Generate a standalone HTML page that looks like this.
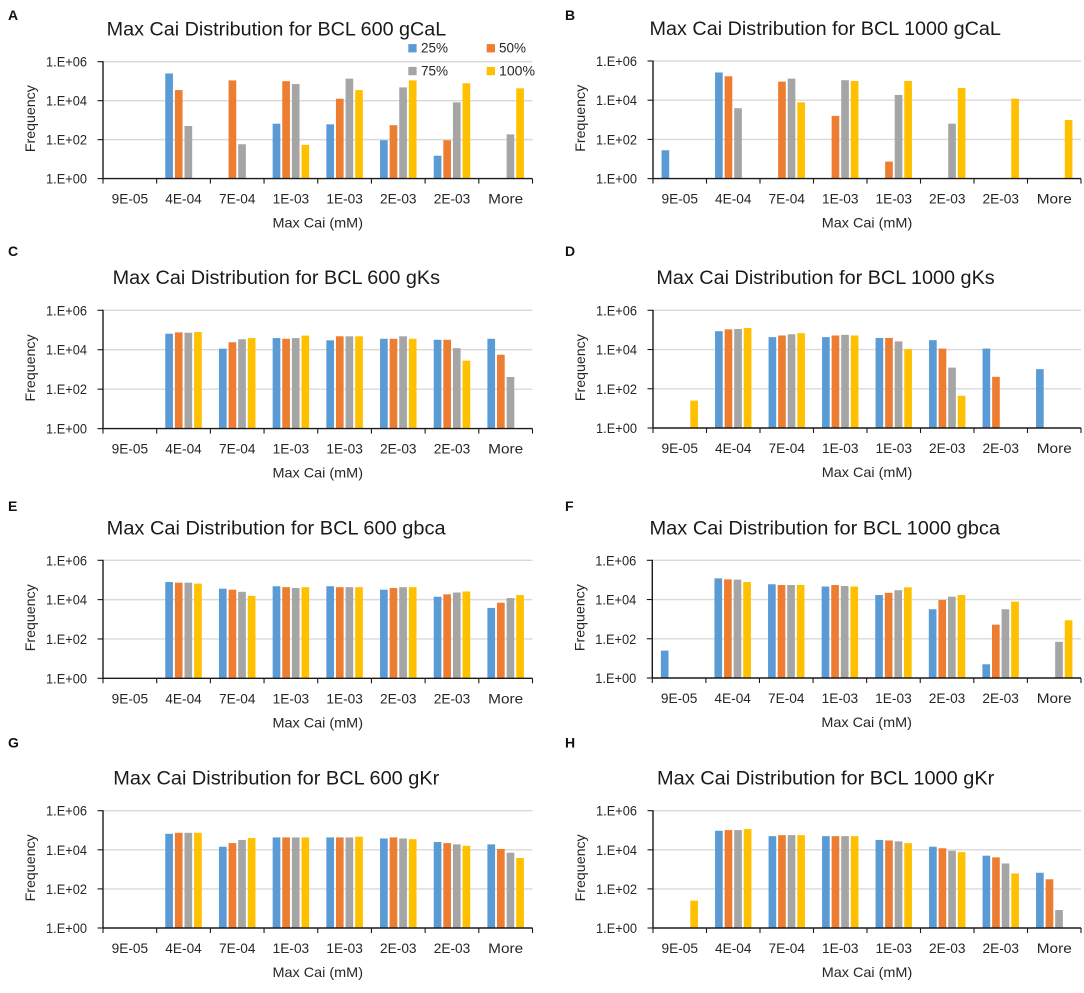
<!DOCTYPE html>
<html lang="en">
<head>
<meta charset="utf-8">
<title>Max Cai Distribution Charts</title>
<style>
html,body{margin:0;padding:0;background:#fff;width:1084px;height:993px;overflow:hidden}
svg{display:block;filter:blur(0.3px)}
text{font-family:"Liberation Sans",sans-serif;fill:#262626}
</style>
</head>
<body>
<svg id="fig" width="1084" height="993" viewBox="0 0 1084 993" xmlns="http://www.w3.org/2000/svg"></svg>
<script>
const categories = ['9E-05','4E-04','7E-04','1E-03','1E-03','2E-03','2E-03','More'];
const yTickLabels = ['1.E+00','1.E+02','1.E+04','1.E+06'];
const yTickValues = [1,100,10000,1000000];
const seriesNames = ['25%','50%','75%','100%'];

const a25  = [1,250000,1,660,610,93,15,1];
const a50  = [1,35000,110000,100000,12600,550,93,1];
const a75  = [1,500,58,71000,135000,48000,8200,187];
const a100 = [1,1,1,54,35000,110000,78000,43000];

const b25  = [28,260000,1,1,1,1,1,1];
const b50  = [1,166000,89000,1580,7.4,1,1,1];
const b75  = [1,3900,126000,105000,18600,640,1,1];
const b100 = [1,1,7800,96000,96000,42000,12000,980];

const c25  = [1,65000,11300,39000,30000,36000,32000,36000];
const c50  = [1,76000,24000,36000,48000,36000,32000,5600];
const c75  = [1,73000,34000,39000,48000,48000,12000,415];
const c100 = [1,79000,39000,52000,48000,36000,2800,1];

const d25  = [1,86000,43000,43000,39000,30000,11200,1000];
const d50  = [1,107000,52000,52000,39000,11200,407,1];
const d75  = [1,112000,60000,56000,26000,1200,1,1];
const d100 = [25,126000,68000,52000,10500,44,1,1];

const e25  = [1,79000,36000,48000,48000,32000,14000,3800];
const e50  = [1,73000,32000,43000,43000,39000,18600,7000];
const e75  = [1,73000,25000,39000,43000,43000,23000,12000];
const e100 = [1,65000,15500,43000,43000,43000,26000,17000];

const f25  = [25,120000,60000,46000,17000,3200,5,1];
const f50  = [1,107000,55000,55000,22000,9500,525,1];
const f75  = [1,103000,55000,49000,30000,14000,3200,70];
const f100 = [1,78000,55000,46000,42000,17000,7800,880];

const g25  = [1,66000,14400,43000,43000,38000,25000,19000];
const g50  = [1,74000,22000,43000,43000,43000,22000,11000];
const g75  = [1,74000,32000,43000,43000,38000,19000,7100];
const g100 = [1,74000,40000,43000,47000,35000,16000,3800];

const h25  = [1,94000,50000,50000,32000,14400,5000,670];
const h50  = [1,102000,56000,50000,30000,12000,4100,310];
const h75  = [1,102000,56000,50000,27000,8900,2000,8.3];
const h100 = [25,115000,56000,50000,22000,7600,620,1];

const colors = ['#5b9bd5','#ed7d31','#a5a5a5','#ffc000'];

const layout = [
 {id:'a',letter:'A',lx:8,ly:20,x0:103,x1:532.5,top:61.7,bot:178.6,title:'Max Cai Distribution for BCL 600 gCaL',tx:106.7,tw:339.6,ty:35.5,s:[a25,a50,a75,a100]},
 {id:'b',letter:'B',lx:565,ly:20,x0:653,x1:1081,top:61,bot:178.6,title:'Max Cai Distribution for BCL 1000 gCaL',tx:649.5,tw:351.4,ty:35,s:[b25,b50,b75,b100]},
 {id:'c',letter:'C',lx:8,ly:256,x0:103,x1:532.5,top:310.3,bot:428.6,title:'Max Cai Distribution for BCL 600 gKs',tx:112.6,tw:327.4,ty:284,s:[c25,c50,c75,c100]},
 {id:'d',letter:'D',lx:565,ly:256,x0:653,x1:1081,top:310.3,bot:428,title:'Max Cai Distribution for BCL 1000 gKs',tx:656.4,tw:338.3,ty:284,s:[d25,d50,d75,d100]},
 {id:'e',letter:'E',lx:8,ly:511,x0:103,x1:532.5,top:560.3,bot:678.3,title:'Max Cai Distribution for BCL 600 gbca',tx:106.7,tw:338.9,ty:534.3,s:[e25,e50,e75,e100]},
 {id:'f',letter:'F',lx:565,ly:511,x0:652.3,x1:1081,top:560.3,bot:678,title:'Max Cai Distribution for BCL 1000 gbca',tx:649.5,tw:350.5,ty:534.3,s:[f25,f50,f75,f100]},
 {id:'g',letter:'G',lx:8,ly:747.7,x0:103,x1:532.5,top:810.7,bot:928,title:'Max Cai Distribution for BCL 600 gKr',tx:113.3,tw:326,ty:784.7,s:[g25,g50,g75,g100]},
 {id:'h',letter:'H',lx:565,ly:747.7,x0:653,x1:1081,top:810.7,bot:928,title:'Max Cai Distribution for BCL 1000 gKr',tx:657,tw:337.3,ty:784.7,s:[h25,h50,h75,h100]}
];

const svg = document.getElementById('fig');
const NS = 'http://www.w3.org/2000/svg';

function mk(tag, attrs, parent){
  const el = document.createElementNS(NS, tag);
  for (const k in attrs) el.setAttribute(k, attrs[k]);
  parent.appendChild(el);
  return el;
}
function label(str, attrs, parent){
  const el = mk('text', attrs, parent);
  el.textContent = str;
  return el;
}
function yLog(v, p){
  const maxLog = Math.log10(yTickValues[yTickValues.length-1]);
  return p.bot - (Math.log10(v) / maxLog) * (p.bot - p.top);
}
function xCat(i, p){
  return p.x0 + (p.x1 - p.x0) * i / categories.length;
}

layout.forEach(function(p){
  const g = mk('g', {}, svg);
  
  

  const letter = label(p.letter, {x:p.lx, y:p.ly, 'font-size':14, 'font-weight':'bold', style:'fill:#111'}, g);
  
  

  const title = label(p.title, {x:p.tx, y:p.ty, 'font-size':19, textLength:p.tw, lengthAdjust:'spacingAndGlyphs', style:'fill:#1a1a1a'}, g);
  
  

  yTickValues.forEach(function(v, i){
    const y = yLog(v, p);
    if (i > 0){
      const grid = mk('line', {x1:p.x0, x2:p.x1, y1:y, y2:y, stroke:'#d9d9d9', 'stroke-width':1.4}, g);
      
      
    }
    const tick = mk('line', {x1:p.x0-5.5, x2:p.x0, y1:y, y2:y, stroke:'#1a1a1a', 'stroke-width':1.1}, g);
    
    
    const tl = label(yTickLabels[i], {x:p.x0-16, y:y+5, 'font-size':13.5, 'text-anchor':'end', textLength:41, lengthAdjust:'spacingAndGlyphs'}, g);
    
    
  });

  const catW = (p.x1 - p.x0) / categories.length;
  const barW = catW * 0.143;
  const step = catW * 0.179;
  const pad = (catW - (3 * step + barW)) / 2;

  p.s.forEach(function(values, si){
    values.forEach(function(v, ci){
      if (v <= 1) return;
      const y = yLog(v, p);
      const bar = mk('rect', {x:xCat(ci, p) + pad + si * step, y:y, width:barW, height:p.bot - y, fill:colors[si]}, g);
      
      
    });
  });

  const yAxis = mk('line', {x1:p.x0, x2:p.x0, y1:p.top-0.5, y2:p.bot+0.5, stroke:'#1a1a1a', 'stroke-width':1.4}, g);
  
  
  const xAxis = mk('line', {x1:p.x0, x2:p.x1, y1:p.bot, y2:p.bot, stroke:'#1a1a1a', 'stroke-width':1.4}, g);
  
  

  for (let i = 0; i <= categories.length; i++){
    const x = xCat(i, p);
    const t = mk('line', {x1:x, x2:x, y1:p.bot, y2:p.bot+5, stroke:'#1a1a1a', 'stroke-width':1.1}, g);
    
    
  }
  categories.forEach(function(c, i){
    const cl = label(c, {x:xCat(i, p) + catW/2, y:p.bot+25, 'font-size':13.5, 'text-anchor':'middle', textLength:c === 'More' ? 35 : 36.5, lengthAdjust:'spacingAndGlyphs'}, g);
    
    
  });

  const xt = label('Max Cai (mM)', {x:(p.x0+p.x1)/2, y:p.bot+49, 'font-size':14, 'text-anchor':'middle', textLength:90.5, lengthAdjust:'spacingAndGlyphs'}, g);
  
  

  const bx = p.x0 - 68;
  const by = (p.top + p.bot) / 2 - 1.5;
  const yt = label('Frequency', {x:bx, y:by, 'font-size':14, 'text-anchor':'middle', transform:'rotate(-90 ' + bx + ' ' + by + ')', textLength:67, lengthAdjust:'spacingAndGlyphs'}, g);
  
  
});

const legendSlots = [{sx:408.3,tx:421,y:52.7,w:27},{sx:486.7,tx:499,y:52.7,w:27},{sx:408.3,tx:421,y:75.5,w:27},{sx:486.7,tx:499,y:75.5,w:36}];
const legend = mk('g', {}, svg);


seriesNames.forEach(function(n, i){
  const s = legendSlots[i];
  const sw = mk('rect', {x:s.sx, y:s.y-8.6, width:8.3, height:8.3, fill:colors[i]}, legend);
  
  
  const tx = label(n, {x:s.tx, y:s.y, 'font-size':13.5, textLength:s.w, lengthAdjust:'spacingAndGlyphs'}, legend);
  
  
});
</script>
</body>
</html>
